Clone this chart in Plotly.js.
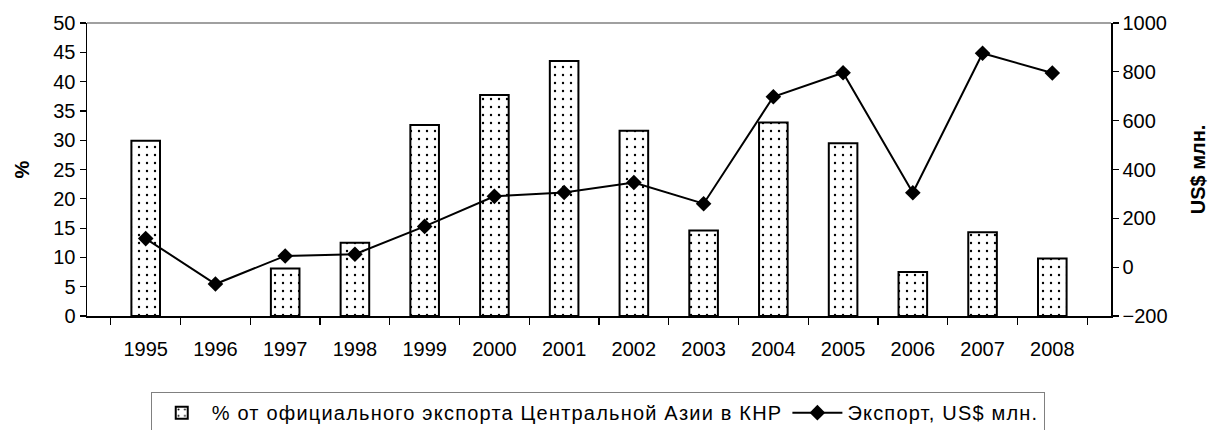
<!DOCTYPE html>
<html>
<head>
<meta charset="utf-8">
<script src="https://cdn.plot.ly/plotly-3.0.1.min.js"></script>
<style>
html,body{margin:0;padding:0;background:#fff;}
#chart{width:1210px;height:430px;}
.legendtext{letter-spacing:1.2px;}
</style>
</head>
<body>
<div id="chart"></div>
<script>
const years = ['1995','1996','1997','1998','1999','2000','2001','2002','2003','2004','2005','2006','2007','2008'];
const sharePct = [29.9, null, 8.1, 12.5, 32.6, 37.7, 43.5, 31.6, 14.6, 33.0, 29.5, 7.5, 14.3, 9.8];
const exportMln = [117, -69, 46, 53, 167, 290, 306, 347, 260, 698, 796, 305, 876, 795];
const barName = '% от официального экспорта Центральной Азии в КНР';
const lineName = 'Экспорт, US$ млн.';
const leftTicks = [0,5,10,15,20,25,30,35,40,45,50];
const rightTicks = [-200,0,200,400,600,800,1000];

const FONT = 'Liberation Sans, Arial, sans-serif';
const FS = 20;

const traces = [
  {
    type: 'bar', x: years, y: sharePct, name: barName, yaxis: 'y',
    width: 0.41,
    marker: {
      color: '#ffffff',
      line: {color: '#000000', width: 2},
      pattern: {shape: '.', fgcolor: '#000000', bgcolor: '#ffffff', size: 8, solidity: 0.07}
    },
    hoverinfo: 'skip'
  },
  {
    type: 'scatter', mode: 'lines+markers', x: years, y: exportMln, name: lineName, yaxis: 'y2',
    line: {color: '#000000', width: 2},
    marker: {symbol: 'diamond', size: 12, color: '#000000'},
    hoverinfo: 'skip'
  }
];

const layout = {
  width: 1210, height: 430,
  margin: {l: 87, r: 99, t: 23, b: 114, autoexpand: false},
  paper_bgcolor: '#ffffff', plot_bgcolor: '#ffffff',
  font: {family: FONT, size: FS, color: '#000000'},
  showlegend: true,
  legend: {
    orientation: 'h', x: 0.494, xref: 'container', xanchor: 'center',
    y: 0.088, yref: 'container', yanchor: 'top',
    bordercolor: '#808080', borderwidth: 1, bgcolor: '#ffffff',
    font: {family: FONT, size: FS, color: '#000000'},
    traceorder: 'normal', itemwidth: 50
  },
  xaxis: {
    type: 'category', tickvals: years, ticktext: years,
    showline: true, linecolor: '#000000', linewidth: 1.5,
    ticks: 'outside', tickson: 'boundaries', ticklen: 7, tickcolor: '#000000', tickwidth: 1.2,
    ticklabelstandoff: 14,
    showgrid: false, zeroline: false, fixedrange: true,
    tickfont: {family: FONT, size: FS, color: '#000000'}
  },
  yaxis: {
    range: [0, 50], tickvals: leftTicks,
    showline: true, linecolor: '#000000', linewidth: 1.5,
    ticks: 'outside', ticklen: 6, tickcolor: '#000000', tickwidth: 1.2,
    showgrid: false, zeroline: false,
    tickfont: {family: FONT, size: FS, color: '#000000'},
    title: {text: '%', font: {family: FONT, size: FS, color: '#000000', weight: 'bold'}, standoff: 18}
  },
  yaxis2: {
    range: [-200, 1000], tickvals: rightTicks, overlaying: 'y', side: 'right',
    showline: true, linecolor: '#000000', linewidth: 1.5,
    ticks: 'outside', ticklen: 6, tickcolor: '#000000', tickwidth: 1.2,
    showgrid: false, zeroline: false,
    tickfont: {family: FONT, size: FS, color: '#000000'},
    title: {text: 'US$ млн.', font: {family: FONT, size: FS, color: '#000000', weight: 'bold'}, standoff: 24}
  },
  shapes: [
    {type: 'line', xref: 'paper', yref: 'paper', x0: 0, x1: 1, y0: 1, y1: 1,
     line: {color: '#808080', width: 1.5}}
  ]
};

Plotly.newPlot('chart', traces, layout, {staticPlot: true, displayModeBar: false});
</script>
</body>
</html>
